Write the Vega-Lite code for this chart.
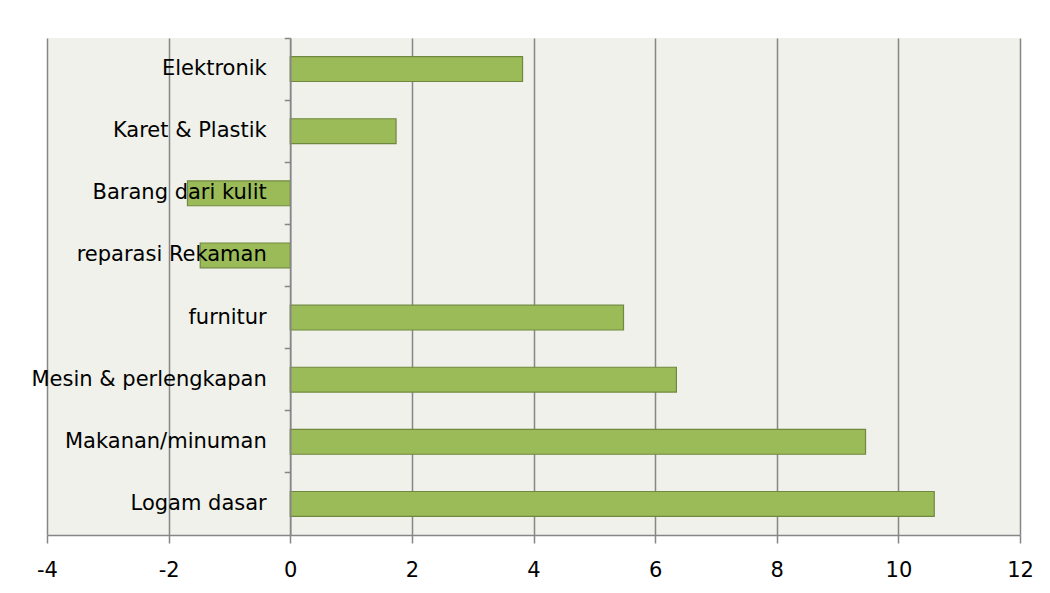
{
  "$schema": "https://vega.github.io/schema/vega-lite/v6.json",
  "width": 973,
  "height": 497,
  "autosize": {"type": "none"},
  "padding": {"left": 47, "top": 38, "right": 30, "bottom": 58},
  "background": "#ffffff",
  "config": {
    "view": {"fill": "#EFF1EA", "stroke": null},
    "font": "DejaVu Sans"
  },
  "data": {
    "values": [
      {"kategori": "Elektronik", "nilai": 3.82},
      {"kategori": "Karet & Plastik", "nilai": 1.74},
      {"kategori": "Barang dari kulit", "nilai": -1.69},
      {"kategori": "reparasi Rekaman", "nilai": -1.48},
      {"kategori": "furnitur", "nilai": 5.48},
      {"kategori": "Mesin & perlengkapan", "nilai": 6.35},
      {"kategori": "Makanan/minuman", "nilai": 9.46},
      {"kategori": "Logam dasar", "nilai": 10.59}
    ]
  },
  "mark": {"type": "bar", "color": "#9BBB59", "stroke": "#71893F", "strokeWidth": 1.2, "height": {"band": 0.4}},
  "encoding": {
    "y": {
      "field": "kategori",
      "type": "nominal",
      "sort": null,
      "scale": {"paddingInner": 0, "paddingOuter": 0},
      "axis": {
        "title": null,
        "offset": -243.25,
        "bandPosition": 0,
        "tickSize": 6,
        "tickColor": "#868686",
        "tickWidth": 1.5,
        "domainColor": "#868686",
        "domainWidth": 1.5,
        "labelFont": "DejaVu Sans",
        "labelFontSize": 21,
        "labelColor": "#000000",
        "labelPadding": 18,
        "labelLimit": 0,
        "grid": false,
        "zindex": 1
      }
    },
    "x": {
      "field": "nilai",
      "type": "quantitative",
      "scale": {"domain": [-4, 12], "nice": false, "zero": false},
      "axis": {
        "title": null,
        "values": [-4, -2, 0, 2, 4, 6, 8, 10, 12],
        "labelExpr": "'' + datum.value",
        "grid": true,
        "gridColor": "#868686",
        "gridWidth": 1.5,
        "gridOpacity": 1,
        "tickSize": 8,
        "tickColor": "#868686",
        "tickWidth": 1.5,
        "domainColor": "#868686",
        "domainWidth": 1.5,
        "labelFont": "DejaVu Sans",
        "labelFontSize": 21,
        "labelColor": "#000000",
        "labelPadding": 16,
        "labelFlush": false
      }
    }
  }
}
